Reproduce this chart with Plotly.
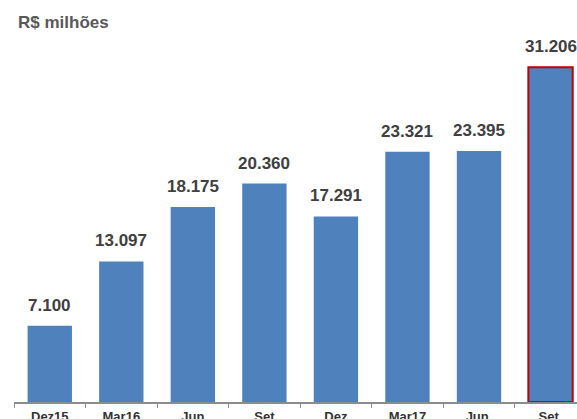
import plotly.graph_objects as go

categories = ["Dez15", "Mar16", "Jun", "Set", "Dez", "Mar17", "Jun ", "Set "]
values = [7100, 13097, 18175, 20360, 17291, 23321, 23395, 31206]
labels = [f"{v:,}".replace(",", ".") for v in values]

bar_color = "#4F81BD"
line_colors = ["rgba(0,0,0,0)"] * 7 + ["#C00000"]
line_widths = [0] * 7 + [2]

fig = go.Figure()
fig.add_trace(go.Bar(
    x=categories, y=values,
    marker=dict(color=bar_color, line=dict(color=line_colors, width=line_widths)),
    width=0.62,
    hoverinfo="skip",
))

for c, v, t in zip(categories, values, labels):
    fig.add_annotation(x=c, y=v, text=f"<b>{t}</b>", showarrow=False,
                       yanchor="bottom", yshift=9,
                       font=dict(family="Liberation Sans, Arial", size=17, color="#404040"))

fig.add_annotation(xref="paper", yref="paper", x=0, y=1, xanchor="left", yanchor="bottom",
                   text="<b>R$ milhões</b>", showarrow=False, xshift=2, yshift=-4,
                   font=dict(family="Liberation Sans, Arial", size=17, color="#595959"))

fig.update_layout(
    width=577, height=419,
    margin=dict(l=14, r=0, t=30, b=17),
    plot_bgcolor="white", paper_bgcolor="white",
    showlegend=False,
    font=dict(family="Liberation Sans, Arial", color="#333333"),
    xaxis=dict(
        type="category", range=[-0.5, 7.37], automargin=False,
        showline=True, linecolor="#8C8C8C", linewidth=1.5,
        ticks="outside", tickson="boundaries", ticklen=4, tickcolor="#8C8C8C",
        tickfont=dict(size=13, color="#333333", family="Liberation Sans, Arial", weight="bold"),
        ticklabelstandoff=2,
        showgrid=False,
    ),
    yaxis=dict(range=[0, 34670], visible=False, showgrid=False, automargin=False),
)

fig.write_html("out.html", config={"displayModeBar": False},
               post_script="document.body.style.margin='0px';document.body.style.overflow='hidden';")
